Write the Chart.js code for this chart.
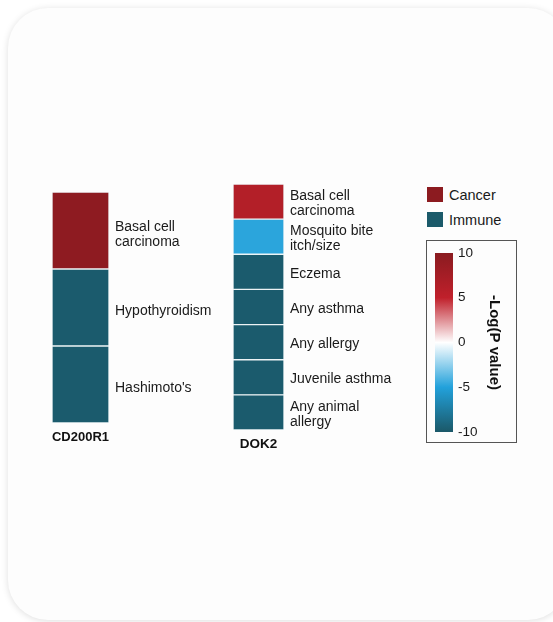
<!DOCTYPE html>
<html>
<head>
<meta charset="utf-8">
<script src="https://cdn.jsdelivr.net/npm/chart.js@4"></script>
<style>
  html, body { margin: 0; padding: 0; background: #fff; width: 553px; height: 622px; overflow: hidden; }
  .card {
    position: absolute; left: 8px; top: 8px; width: 560px; height: 612px;
    background: #fdfdfd; border-radius: 40px;
    box-shadow: 0 1px 7px rgba(0,0,0,0.13);
  }
  .chartbox { position: absolute; }
  .legend { position: absolute; left: 427px; font: 14.5px "Liberation Sans", Arial, sans-serif; color: #1a1a1a; }
  .legend span.sw { display: inline-block; width: 16px; height: 15px; vertical-align: -2px; margin-right: 6px; }
  .cbframe { position: absolute; left: 426px; top: 240px; width: 91px; height: 203px; border: 1px solid #555; box-sizing: border-box; }
</style>
</head>
<body>
<div class="card"></div>

<div class="chartbox" style="left:52px; top:182px;"><canvas id="gene1" width="175" height="263"></canvas></div>
<div class="chartbox" style="left:233px; top:174px;"><canvas id="gene2" width="169" height="278"></canvas></div>

<div class="legend" style="top:187px;"><span class="sw" id="sw0"></span><span id="lg0"></span></div>
<div class="legend" style="top:212px;"><span class="sw" id="sw1"></span><span id="lg1"></span></div>

<div class="cbframe"></div>
<div class="chartbox" style="left:435px; top:245px;"><canvas id="scale" width="72" height="195"></canvas></div>

<script>
// Dữ liệu
const gene1Name = 'CD200R1';
const gene1Traits = [['Basal cell', 'carcinoma'], 'Hypothyroidism', "Hashimoto's"];
const gene1Values = [9.6, -9.8, -9.8];

const gene2Name = 'DOK2';
const gene2Traits = [['Basal cell', 'carcinoma'], ['Mosquito bite', 'itch/size'], 'Eczema', 'Any asthma',
    'Any allergy', 'Juvenile asthma', ['Any animal', 'allergy']];
const gene2Values = [6.2, -4.8, -9.8, -9.8, -9.8, -9.8, -9.8];

const groupNames = ['Cancer', 'Immune'];
const groupColors = ['#8c1b20', '#1b5a6a'];

const scaleTicks = [-10, -5, 0, 5, 10];
const scaleTitle = '-Log(P value)';

// Thang màu
const colorStops = [
    [-10, '#1b5868'],
    [-5, '#22a1db'],
    [0, '#ffffff'],
    [5, '#c0202b'],
    [10, '#8a1b20']
];

function hexToRgb(h) {
    return [parseInt(h.slice(1, 3), 16), parseInt(h.slice(3, 5), 16), parseInt(h.slice(5, 7), 16)];
}

function valueColor(v) {
    v = Math.max(-10, Math.min(10, v));
    for (let i = 0; i < colorStops.length - 1; i++) {
        let [a, ca] = colorStops[i];
        let [b, cb] = colorStops[i + 1];
        if (v >= a && v <= b) {
            let t = (v - a) / (b - a);
            let A = hexToRgb(ca), B = hexToRgb(cb);
            let c = A.map((x, k) => Math.round(x + (B[k] - x) * t));
            return `rgb(${c[0]},${c[1]},${c[2]})`;
        }
    }
    return colorStops[0][1];
}

const font = "'Liberation Sans', Arial, sans-serif";

function geneChart(id, name, traits, values, topPad, labelShift) {
    let ctx = document.getElementById(id).getContext('2d');
    return new Chart(ctx, {
        type: 'bar',
        data: {
            labels: traits,
            datasets: [{
                data: values.map(() => 1), // mỗi ô có độ rộng 1
                backgroundColor: values.map(valueColor),
                borderColor: 'rgba(235,242,244,0.85)',
                borderWidth: 1,
                borderSkipped: false,
                barPercentage: 1,
                categoryPercentage: 1
            }]
        },
        options: {
            indexAxis: 'y',
            responsive: false,
            animation: false,
            layout: { padding: { top: topPad, left: 0, right: 0, bottom: 0 } },
            plugins: { legend: { display: false }, tooltip: { enabled: false } },
            scales: {
                x: {
                    min: 0, max: 1,
                    grid: { display: false, drawTicks: false },
                    border: { display: false },
                    ticks: { display: false },
                    title: {
                        display: true, text: name, color: '#111',
                        font: { family: font, size: 13.5, weight: 'bold' },
                        padding: { top: 4, bottom: 0 }
                    },
                    afterFit: (s) => { s.height = 22; s.paddingLeft = 0; s.paddingRight = 0; }
                },
                y: {
                    position: 'right',
                    grid: { display: false, drawTicks: false },
                    border: { display: false },
                    ticks: {
                        color: '#1a1a1a', padding: 6, labelOffset: labelShift,
                        font: { family: font, size: 14, lineHeight: 1.1 }
                    },
                    afterFit: (s) => { s.width = 118; s.paddingTop = 0; s.paddingBottom = 0; }
                }
            }
        }
    });
}

geneChart('gene1', gene1Name, gene1Traits, gene1Values, 10, 4);
geneChart('gene2', gene2Name, gene2Traits, gene2Values, 10, 2);

// Chú thích nhóm
groupNames.forEach((g, i) => {
    document.getElementById('sw' + i).style.background = groupColors[i];
    document.getElementById('lg' + i).textContent = g;
});

// Thanh màu
let sctx = document.getElementById('scale').getContext('2d');
new Chart(sctx, {
    type: 'bar',
    data: {
        labels: [''],
        datasets: [{
            data: [[scaleTicks[0], scaleTicks[scaleTicks.length - 1]]],
            backgroundColor: (c) => {
                let area = c.chart.chartArea;
                if (!area) return '#fff';
                let g = c.chart.ctx.createLinearGradient(0, area.bottom, 0, area.top);
                colorStops.forEach(([v, col]) => g.addColorStop((v + 10) / 20, col));
                return g;
            },
            barPercentage: 1,
            categoryPercentage: 1
        }]
    },
    options: {
        responsive: false,
        animation: false,
        layout: { padding: { top: 8, bottom: 8, left: 0, right: 0 } },
        plugins: { legend: { display: false }, tooltip: { enabled: false } },
        scales: {
            x: { display: false },
            y: {
                position: 'right',
                min: -10, max: 10,
                afterBuildTicks: (s) => { s.ticks = scaleTicks.map(v => ({ value: v })); },
                grid: { display: false, drawTicks: false },
                border: { display: false },
                ticks: { color: '#1a1a1a', padding: 5, font: { family: font, size: 13.5 } },
                title: {
                    display: true, text: scaleTitle, color: '#111',
                    font: { family: font, size: 15, weight: 'bold' },
                    padding: { top: 4, bottom: 4 }
                },
                afterFit: (s) => { s.width = 54; s.paddingTop = 0; s.paddingBottom = 0; }
            }
        }
    }
});
</script>
</body>
</html>
